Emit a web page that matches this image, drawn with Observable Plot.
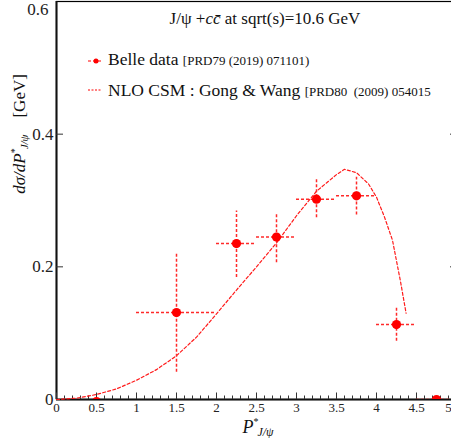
<!DOCTYPE html>
<html>
<head>
<meta charset="utf-8">
<script src="https://cdn.jsdelivr.net/npm/d3@7"></script>
<script src="https://cdn.jsdelivr.net/npm/@observablehq/plot@0.6"></script>
<style>
  html, body { margin: 0; padding: 0; background: #fff; overflow: hidden; }
  #chart svg { display: block; }
</style>
</head>
<body>
<div id="chart"></div>
<script>
// NLO CSM curve (Gong & Wang)
const curveX = [0, 0.25, 0.5, 0.75, 1.0, 1.25, 1.5, 1.75, 2.0, 2.25, 2.5, 2.75, 3.0, 3.25, 3.5, 3.6, 3.75, 3.9, 4.0, 4.1, 4.2, 4.3, 4.37];
const curveY = [0, 0.002, 0.0075, 0.016, 0.029, 0.045, 0.066, 0.094, 0.129, 0.165, 0.2, 0.236, 0.277, 0.314, 0.339, 0.347, 0.342, 0.325, 0.305, 0.275, 0.24, 0.178, 0.13];

// Belle data
const belleX   = [0.5, 1.5, 2.25, 2.75, 3.25, 3.75, 4.25, 4.75];
const belleY   = [-0.003, 0.131, 0.235, 0.245, 0.302, 0.307, 0.113, 0];
const belleXLo = [0.5, 1.0, 2.0, 2.5, 3.0, 3.5, 4.0, 4.5];
const belleXHi = [0.5, 2.0, 2.5, 3.0, 3.5, 4.0, 4.5, 5.0];
const belleYLo = [-0.003, 0.041, 0.184, 0.206, 0.274, 0.278, 0.088, 0];
const belleYHi = [-0.003, 0.221, 0.284, 0.281, 0.332, 0.335, 0.138, 0];

// Axis ticks
const xMajor = [0, 0.5, 1, 1.5, 2, 2.5, 3, 3.5, 4, 4.5];
const xEdgeLabel = [5];
const xMinor = d3.range(0, 51).map(i => i / 10);
const xMajorTicks = [0, 0.5, 1, 1.5, 2, 2.5, 3, 3.5, 4, 4.5, 5];
const yMajor = [0.2, 0.4];
const yLabels = [0, 0.2, 0.4];
const yTopLabel = [0.6];

const curve = curveX.map((x, i) => ({x, y: curveY[i]}));
const belle = belleX.map((x, i) => ({x, y: belleY[i], xLo: belleXLo[i], xHi: belleXHi[i], yLo: belleYLo[i], yHi: belleYHi[i]}));

const serif = "'Liberation Serif', 'DejaVu Serif', serif";
const errStyle = {stroke: "#ff2a2a", strokeWidth: 1.5, strokeDasharray: "3,2", clip: true};

const chart = Plot.plot({
  width: 451,
  height: 438,
  marginLeft: 56,
  marginRight: -5,
  marginTop: 1,
  marginBottom: 39,
  style: {fontFamily: serif, background: "white", color: "#222"},
  x: {domain: [0, 5]},
  y: {domain: [0, 0.6]},
  marks: [
    Plot.frame({stroke: "black", strokeWidth: 1.2}),
    Plot.ruleY([0], {stroke: "#111", strokeWidth: 2}),
    Plot.ruleX([0], {stroke: "#111", strokeWidth: 2}),
    Plot.axisX(xMinor, {anchor: "bottom", tickSize: -3.5, tickFormat: () => "", label: null, stroke: "#333"}),
    Plot.axisX(xMajorTicks, {anchor: "bottom", tickSize: -6.5, tickFormat: () => "", label: null, stroke: "#333"}),
    Plot.axisX(xMajor, {anchor: "bottom", tickSize: 0, tickPadding: 3, fontSize: 13, tickFormat: d => String(d), label: null, fill: "#222"}),
    Plot.axisX(xEdgeLabel, {anchor: "bottom", tickSize: 0, tickPadding: 3, dx: -8, fontSize: 13, tickFormat: d => String(d), label: null, fill: "#222"}),
    Plot.axisY(yMajor, {anchor: "left", tickSize: -7, tickFormat: () => "", label: null, stroke: "#333"}),
    Plot.axisY(yMajor, {anchor: "right", tickSize: -7, tickFormat: () => "", label: null, stroke: "#333"}),
    Plot.axisY(yLabels, {anchor: "left", tickSize: 0, tickPadding: 3, fontSize: 17, tickFormat: d => String(d), label: null, fill: "#222"}),
    Plot.axisY(yTopLabel, {anchor: "left", tickSize: 0, tickPadding: 8, dy: 8, fontSize: 17, tickFormat: d => String(d), label: null, fill: "#222"}),
    Plot.line(curve, {x: "x", y: "y", stroke: "#ff1a1a", strokeWidth: 1.2, strokeDasharray: "3,2.2"}),
    Plot.ruleY(belle, {y: "y", x1: "xLo", x2: "xHi", ...errStyle}),
    Plot.ruleX(belle, {x: "x", y1: "yLo", y2: "yHi", ...errStyle}),
    Plot.dot(belle, {x: "x", y: "y", r: 4.6, fill: "red", stroke: "none", clip: true})
  ]
});
document.getElementById("chart").appendChild(chart);

// Annotations: title, legend, axis labels
const svg = d3.select(chart);
const g = svg.append("g").attr("font-family", serif).attr("fill", "#111").attr("text-anchor", "start");

// Title
const title = g.append("text").attr("x", 265).attr("y", 24).attr("text-anchor", "middle").attr("font-size", 17);
title.append("tspan").text("J/ψ +");
title.append("tspan").attr("font-style", "italic").text("c");
title.append("tspan").attr("font-style", "italic").text("c\u0304");
title.append("tspan").text(" at sqrt(s)=10.6 GeV");

// Legend: Belle
g.append("line").attr("x1", 88).attr("x2", 102).attr("y1", 61).attr("y2", 61)
  .attr("stroke", "red").attr("stroke-width", 1.2).attr("stroke-dasharray", "3,2");
g.append("circle").attr("cx", 96).attr("cy", 61).attr("r", 2.5).attr("fill", "red");
const l1 = g.append("text").attr("x", 108).attr("y", 65).attr("font-size", 17.5);
l1.append("tspan").text("Belle data ");
l1.append("tspan").attr("font-size", 13).text("[PRD79 (2019) 071101)");

// Legend: NLO
g.append("line").attr("x1", 88).attr("x2", 102).attr("y1", 90).attr("y2", 90)
  .attr("stroke", "red").attr("stroke-width", 1).attr("stroke-dasharray", "2,1.5");
const l2 = g.append("text").attr("x", 108).attr("y", 96).attr("font-size", 17.5);
l2.append("tspan").text("NLO CSM : Gong & Wang ");
l2.append("tspan").attr("font-size", 13).text("[PRD80  (2009) 054015");

// X label
const xl = g.append("text").attr("x", 258).attr("y", 433).attr("text-anchor", "middle").attr("font-size", 18);
xl.append("tspan").attr("font-style", "italic").text("P");
xl.append("tspan").attr("font-size", 10).attr("dy", -8).text("*");
xl.append("tspan").attr("font-size", 12).attr("font-style", "italic").attr("dx", -1).attr("dy", 11).text("J/ψ");

// Y label
const yl = g.append("text").attr("transform", "translate(25,134) rotate(-90)").attr("text-anchor", "middle").attr("font-size", 17);
yl.append("tspan").attr("font-style", "italic").text("dσ/dP");
yl.append("tspan").attr("font-size", 10).attr("dy", -7).text("*");
yl.append("tspan").attr("font-size", 11).attr("font-style", "italic").attr("dx", -1).attr("dy", 10).text("J/ψ");
yl.append("tspan").attr("dy", -3).text("    [GeV]");
</script>
</body>
</html>
